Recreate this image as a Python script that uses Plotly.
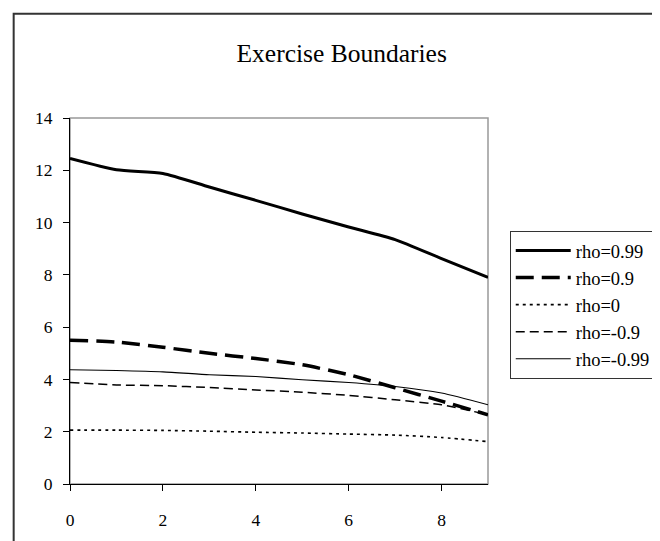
import plotly.graph_objects as go

x_vals = [0, 1, 2, 3, 4, 5, 6, 7, 8, 9]
rho_099 = [12.45, 12.02, 11.88, 11.36, 10.85, 10.33, 9.83, 9.35, 8.62, 7.9]
rho_09 = [5.50, 5.43, 5.23, 5.00, 4.80, 4.56, 4.18, 3.68, 3.17, 2.65]
rho_0 = [2.06, 2.06, 2.05, 2.02, 1.98, 1.95, 1.91, 1.87, 1.78, 1.62]
rho_m09 = [3.88, 3.79, 3.76, 3.69, 3.60, 3.51, 3.39, 3.22, 3.03, 2.65]
rho_m099 = [4.37, 4.34, 4.29, 4.18, 4.11, 3.99, 3.88, 3.73, 3.48, 3.03]
names = ["rho=0.99", "rho=0.9", "rho=0", "rho=-0.9", "rho=-0.99"]
title_text = "Exercise Boundaries"
x_ticks = [0, 2, 4, 6, 8]
y_ticks = [0, 2, 4, 6, 8, 10, 12, 14]

series = [rho_099, rho_09, rho_0, rho_m09, rho_m099]
styles = [
    dict(width=3, dash="solid"),
    dict(width=3.5, dash="18px,8px"),
    dict(width=1.6, dash="3px,4px"),
    dict(width=1.5, dash="9px,5px"),
    dict(width=1.1, dash="solid"),
]

FONT = "Liberation Serif"

fig = go.Figure()
for name, ys, st in zip(names, series, styles):
    fig.add_trace(go.Scatter(
        x=x_vals, y=ys, name=name, mode="lines",
        line=dict(color="black", width=st["width"], dash=st["dash"],
                  shape="spline", smoothing=0.6),
    ))

W, H = 660, 541
L, R, T, B = 62, 175, 109.5, 65
pw = W - L - R
ph = H - T - B

fig.update_layout(
    width=W, height=H,
    margin=dict(l=L, r=R, t=T, b=B, pad=0),
    paper_bgcolor="white", plot_bgcolor="white",
    font=dict(family=FONT, color="black", size=17.5),
    title=dict(text=title_text, x=333.7 / W, xanchor="center",
               y=1 - 45 / H, yanchor="middle",
               font=dict(family=FONT, size=25.5, color="black")),
    showlegend=True,
    legend=dict(
        x=(507 - L) / pw, xanchor="left",
        y=(H - B - 222.7) / ph, yanchor="top",
        bgcolor="white", bordercolor="#333", borderwidth=1,
        font=dict(family=FONT, size=18.5, color="black"),
        itemwidth=55, tracegroupgap=0,
    ),
    xaxis=dict(range=[0, 9], tickvals=x_ticks, ticktext=[str(v) for v in x_ticks],
               showgrid=False, zeroline=False, showline=True, linecolor="black",
               linewidth=1, ticks="outside", ticklen=6, tickcolor="black",
               ticklabelstandoff=14, fixedrange=True,
               tickfont=dict(family=FONT, size=17.5, color="black")),
    yaxis=dict(range=[0, 14], tickvals=y_ticks, ticktext=[str(v) for v in y_ticks],
               showgrid=False, zeroline=False, showline=True, linecolor="black",
               linewidth=1, ticks="outside", ticklen=6, tickcolor="black",
               ticklabelstandoff=7, fixedrange=True,
               tickfont=dict(family=FONT, size=17.5, color="black")),
    shapes=[
        dict(type="rect", xref="paper", yref="paper", x0=0, x1=1, y0=0, y1=1,
             line=dict(color="#999", width=1.5), layer="below"),
        dict(type="rect", xref="paper", yref="paper",
             x0=(5 - L) / pw, x1=(670 - L) / pw,
             y0=(H - B - 560) / ph, y1=(H - B - 5) / ph,
             line=dict(color="#333", width=2), layer="below"),
    ],
)

fig.write_html("out.html")
